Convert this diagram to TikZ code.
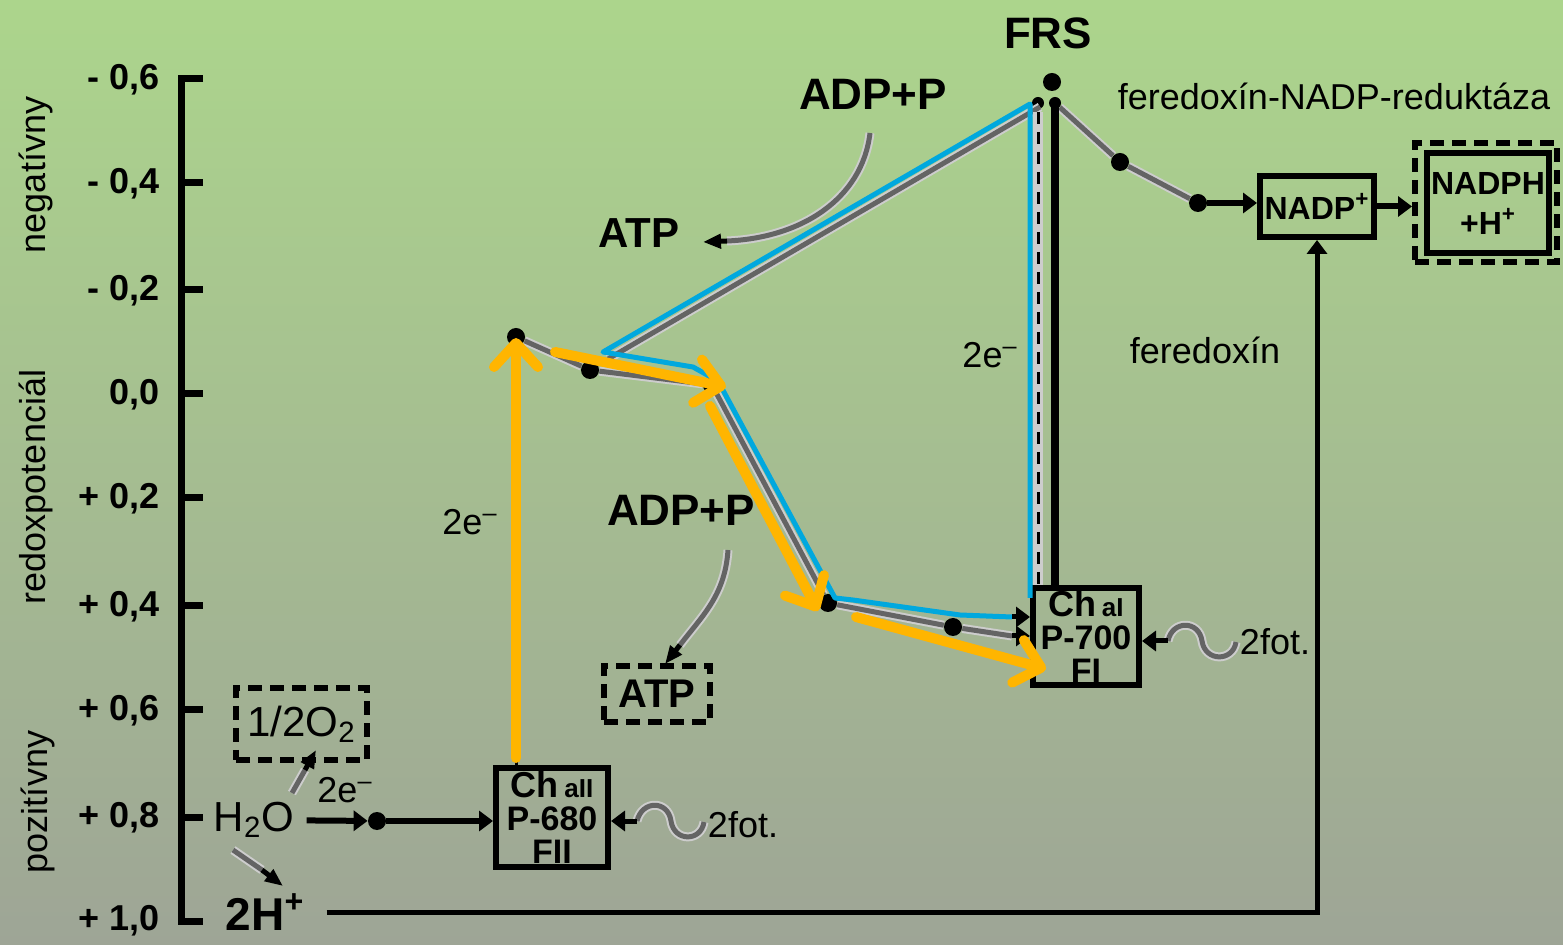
\documentclass[tikz,border=0pt]{standalone}
\usepackage{fontspec}
\setmainfont{Liberation Sans}
\usetikzlibrary{arrows.meta}
\definecolor{bgtop}{RGB}{172,213,140}
\definecolor{bgbot}{RGB}{158,165,150}
\definecolor{orng}{RGB}{255,181,0}
\definecolor{blu}{RGB}{0,168,222}
\definecolor{chaindk}{RGB}{100,100,100}
\definecolor{chainlt}{RGB}{205,205,205}
\newcommand{\fsz}[2]{\fontsize{#1}{#2}\selectfont}
\tikzset{
  reg/.style={font=\fsz{18}{18}, inner sep=0},
  bld/.style={font=\fsz{22}{22}\bfseries, inner sep=0},
  ticklbl/.style={font=\fsz{18}{18}\bfseries, inner sep=0, anchor=east},
  side/.style={font=\fsz{18}{18}, inner sep=0, rotate=90},
  dot/.style={circle, fill=black, inner sep=0, minimum size=9pt},
  smalldot/.style={circle, fill=black, inner sep=0, minimum size=6pt},
  chbox/.style={draw, line width=3pt, inner sep=0, align=center, font=\fsz{17}{16.5}\bfseries},
  dbox/.style={draw, line width=3pt, dash pattern=on 7pt off 4pt, inner sep=0},
  tipline/.style={line width=2.5pt, -{Triangle[length=7pt,width=10pt]}},
  smalltip/.style={line width=2.5pt, -{Triangle[length=9pt,width=7pt]}},
  orarrow/.style={draw=orng, line width=5pt, line cap=round, -{Straight Barb[length=12pt,width=22pt,round]}},
  bluline/.style={draw=blu, line width=2.5pt, line join=round},
  chainln/.style={draw=chainlt, line width=4.5pt, line join=round, postaction={draw=chaindk, line width=2.5pt}},
  axisln/.style={line width=3.5pt},
}
\begin{document}
\begin{tikzpicture}[x=0.5pt,y=-0.5pt]
\useasboundingbox (0,0) rectangle (1563,945);
\shade[top color=bgtop, bottom color=bgbot] (0,0) rectangle (1563,945);

% axis
\draw[axisln, line join=miter] (203,79) -- (181,79) -- (181,921) -- (203,921);
\foreach \yy in {183,290,394,498,606,710,817} \draw[axisln] (181,\yy) -- (203,\yy);

\node[ticklbl] (t06n) at (160,80) {- 0,6};
\node[ticklbl] (t04n) at (160,184) {- 0,4};
\node[ticklbl] (t02n) at (160,291) {- 0,2};
\node[ticklbl] (t00) at (160,395) {0,0};
\node[ticklbl] (t02p) at (160,499) {+ 0,2};
\node[ticklbl] (t04p) at (160,607) {+ 0,4};
\node[ticklbl] (t06p) at (160,711) {+ 0,6};
\node[ticklbl] (t08p) at (160,818) {+ 0,8};
\node[ticklbl] (t10p) at (160,921) {+ 1,0};

\node[side] (neg) at (36,175) {negatívny};
\node[side] (redox) at (36,487) {redoxpotenciál};
\node[side] (poz) at (38,802) {pozitívny};

% boxes
\node[chbox, minimum width=56pt, minimum height=49.5pt] (p680) at (552,817.5) {{\fsz{18}{18}Ch}\,{\fsz{13}{13}aII}\\P-680\\FII};
\node[chbox, minimum width=53pt, minimum height=48.5pt] (p700) at (1086,636.5) {{\fsz{18}{18}Ch}\,{\fsz{13}{13}aI}\\P-700\\FI};
\node[chbox, minimum width=57pt, minimum height=30.5pt, font=\fsz{16}{16}\bfseries] (nadp) at (1317,206.5) {NADP\textsuperscript{+}};
\node[chbox, minimum width=61pt, minimum height=50pt, font=\fsz{16}{20}\bfseries] (nadph) at (1488,203) {NADPH\\+H\textsuperscript{+}};
\node[dbox, minimum width=71pt, minimum height=59.5pt] (nadpho) at (1486,202.5) {};
\node[dbox, minimum width=65.5pt, minimum height=36pt, font=\fsz{21}{21}] (o2) at (301.5,724) {1/2O\textsubscript{2}};
\node[dbox, minimum width=53pt, minimum height=28pt, font=\fsz{20}{20}\bfseries] (atpb) at (657,694) {ATP};

% texts
\node[bld] (frs) at (1048,33) {FRS};
\node[bld] (adp1) at (873,94) {ADP+P};
\node[bld, font=\fsz{21}{21}\bfseries] (atp1) at (639,233) {ATP};
\node[bld] (adp2) at (681,510) {ADP+P};
\node[reg] (e1) at (470,522) {2e\textsuperscript{–}};
\node[reg] (e2) at (990,355) {2e\textsuperscript{–}};
\node[reg] (e3) at (345,790) {2e\textsuperscript{–}};
\node[reg] (fnr) at (1334,96) {feredoxín-NADP-reduktáza};
\node[reg] (fd) at (1205,350) {feredoxín};
\node[reg] (fot2) at (743,825) {2fot.};
\node[reg] (fot1) at (1275,642) {2fot.};
\node[font=\fsz{21}{21}, inner sep=0] (h2o) at (254,820) {H\textsubscript{2}O};
\node[font=\fsz{23}{23}\bfseries, inner sep=0] (h2p) at (265,912) {2H\textsuperscript{+}};

% dots
\node[dot] (d1) at (516,337) {};
\node[dot] (d2) at (590,370) {};
\node[dot] (d3) at (712,385) {};
\node[dot] (d4) at (828,603) {};
\node[dot] (d5) at (953,627) {};
\node[dot] (dh) at (377,821) {};
\node[dot] (df1) at (1120,162) {};
\node[dot] (df2) at (1198,203) {};
\node[dot] (dfrs) at (1052,82) {};
\node[smalldot] (sfa) at (1038,103) {};
\node[smalldot] (sfb) at (1055,103) {};

% coordinates
\coordinate (ctop) at (1030,104);
\coordinate (cb1) at (603,352);
\coordinate (cb2) at (693,367);
\coordinate (cb3) at (718,381);
\coordinate (cb4) at (835,598);
\coordinate (cb5) at (853,600);
\coordinate (cb6) at (960,615);
\coordinate (cb7) at (1012,617);
\coordinate (cbot) at (1030,598);
\coordinate (cin2) at (1012,636);
\coordinate (g1) at (608,359);
\coordinate (g2) at (1040,107);
\coordinate (dv1) at (1038,112);
\coordinate (dv2) at (1038,585);
\coordinate (vtop) at (1055,100);

% gray chains
\draw[chainln] (d1) -- (d2) -- (d3) -- (d4) -- (d5) -- (cin2);
\draw[chainln] (g1) -- (g2);
\draw[chainlt, line width=5pt] (dv1) -- (dv2);
\draw[black, line width=1.5pt, dash pattern=on 6pt off 4pt] (dv1) -- (dv2);
\draw[chainln] (sfb) -- (df1) -- (df2);
\draw[tipline, line width=3pt] (df2) -- (df2 -| nadp.west);

% black vertical FRS
\draw[line width=4pt] (vtop) -- (vtop |- p700.north);

% blue cycle
\draw[bluline] (cbot) -- (ctop) -- (cb1) -- (cb2) -- (cb3) -- (cb4) -- (cb5) -- (cb6) -- (cb7);
\draw[tipline] (cb7) -- (cb7 -| p700.west);
\draw[tipline] (cin2) -- (cin2 -| p700.west);

% H2O and 2H+
\draw[tipline, line width=3pt, shorten <=6pt] (h2o) -- (dh);
\draw[tipline, line width=3pt] (dh) -- (dh -| p680.west);
\draw[tipline, shorten <=11pt] (h2p) -| (nadp);
\draw[tipline, line width=3pt] (nadp.east) -- (nadp.east -| nadpho.west);

% waves
\coordinate (w2a) at (704,822);
\coordinate (w2m) at (671,821);
\coordinate (w2b) at (637,821);
\draw[chainln] (w2a) .. controls (701,842) and (674,842) .. (w2m) .. controls (668,800) and (642,800) .. (w2b);
\draw[tipline] (w2b) -- (w2b -| p680.east);
\coordinate (w1a) at (1236,642);
\coordinate (w1m) at (1202,641);
\coordinate (w1b) at (1168,641);
\draw[chainln] (w1a) .. controls (1233,662) and (1205,662) .. (w1m) .. controls (1199,620) and (1172,620) .. (w1b);
\draw[tipline] (w1b) -- (w1b -| p700.east);

% ATP curves
\coordinate (a1s) at (870,133);
\coordinate (a1e) at (727,241);
\coordinate (a1t) at (703,242);
\draw[chainln] (a1s) .. controls (862,200) and (800,238) .. (a1e);
\draw[smalltip] (a1e) -- (a1t);
\coordinate (a2s) at (728,550);
\coordinate (a2e) at (680,645);
\coordinate (a2t) at (665,664);
\draw[chainln] (a2s) .. controls (725,595) and (703,615) .. (a2e);
\draw[smalltip] (a2e) -- (a2t);

% small H2O arrows
\coordinate (s1s) at (292,793);
\coordinate (s1e) at (305,770);
\coordinate (s1t) at (316,750);
\draw[chainln] (s1s) -- (s1e);
\draw[smalltip] (s1e) -- (s1t);
\coordinate (s2s) at (233,850);
\coordinate (s2e) at (262,870);
\coordinate (s2t) at (283,886);
\draw[chainln] (s2s) -- (s2e);
\draw[smalltip] (s2e) -- (s2t);

% P680 to first acceptor
\draw[line width=1.5pt] (d1 |- p680.north) -- (d1);

% orange arrows
\coordinate (o1s) at (516,758);
\coordinate (o1e) at (516,338);
\coordinate (o2s) at (555,352);
\coordinate (o2e) at (726,387);
\coordinate (o3s) at (710,406);
\coordinate (o3e) at (818,611);
\coordinate (o4s) at (856,617);
\coordinate (o4e) at (1046,669);
\draw[orarrow] (o1s) -- (o1e);
\draw[orarrow] (o2s) -- (o2e);
\draw[orarrow] (o3s) -- (o3e);
\draw[orarrow] (o4s) -- (o4e);
\end{tikzpicture}
\end{document}
